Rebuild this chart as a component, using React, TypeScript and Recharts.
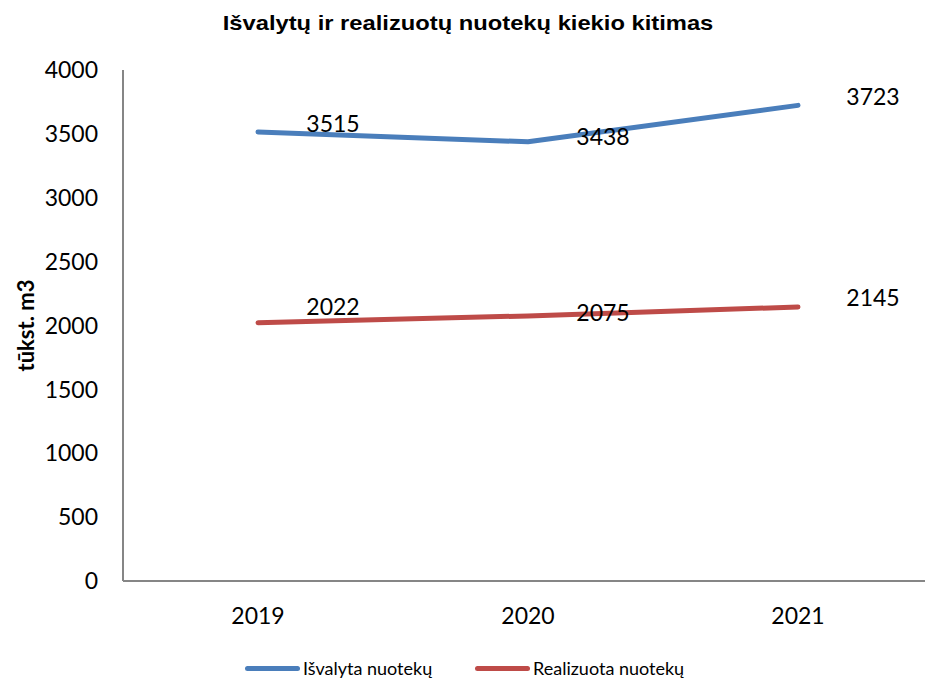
import React from 'react';
import { LineChart, Line, XAxis, YAxis, LabelList } from 'recharts';

const years = ['2019', '2020', '2021'];
const isvalyta = [3515, 3438, 3723];
const realizuota = [2022, 2075, 2145];
const yTicks = [0, 500, 1000, 1500, 2000, 2500, 3000, 3500, 4000];

const title = 'Išvalytų ir realizuotų nuotekų kiekio kitimas';
const yLabel = 'tūkst. m3';
const seriesNames = ['Išvalyta nuotekų', 'Realizuota nuotekų'];
const colors = ['#4a7ebb', '#be4b48'];

// label offsets (style): dy per point
const labelDyBlue = [-9, -6, -9];
const labelDyRed = [-17, -4, -10];

const data = years.map((y, i) => ({ year: y, a: isvalyta[i], b: realizuota[i] }));

const FONT = 'Lato, "Open Sans", sans-serif';

const makeLabel = (dys: number[]) => (props: any) => {
  const { x, y, value, index } = props;
  return (
    <text
      x={x + 75}
      y={y + dys[index]}
      textAnchor="middle"
      dominantBaseline="central"
      fontFamily={FONT}
      fontSize={23}
      fill="#000"
    >
      {value}
    </text>
  );
};

const YLabel = (props: any) => {
  const vb = props.viewBox || {};
  const cy = vb.y + vb.height / 2;
  return (
    <text
      x={25}
      y={cy}
      transform={`rotate(-90, 25, ${cy})`}
      textAnchor="middle"
      dominantBaseline="central"
      fontFamily={FONT}
      fontWeight="bold"
      fontSize={22}
      fill="#000"
    >
      {yLabel}
    </text>
  );
};

export default function App() {
  return (
    <div
      style={{
        position: 'absolute',
        left: 0,
        top: 0,
        width: 925,
        height: 679,
        overflow: 'hidden',
        background: '#fff',
      }}
    >
      <div
        style={{
          position: 'absolute',
          left: 468,
          top: 11,
          transform: 'translateX(-50%) scaleX(1.13)',
          fontFamily: '"Liberation Sans", Arial, sans-serif',
          fontWeight: 'bold',
          fontSize: 21,
          whiteSpace: 'nowrap',
          color: '#000',
        }}
      >
        {title}
      </div>
      <LineChart
        width={935}
        height={679}
        data={data}
        margin={{ top: 70, right: 2, bottom: 38, left: 0 }}
      >
        <XAxis
          dataKey="year"
          scale="band"
          axisLine={{ stroke: '#868686', strokeWidth: 2 }}
          tickLine={false}
          tickSize={0}
          tickMargin={27}
          height={60}
          tick={{ fontFamily: FONT, fontSize: 23, fill: '#000' }}
        />
        <YAxis
          domain={[0, 4000]}
          ticks={yTicks}
          interval={0}
          width={123}
          axisLine={{ stroke: '#868686', strokeWidth: 2 }}
          tickLine={false}
          tickSize={0}
          tickMargin={25}
          tick={{ fontFamily: FONT, fontSize: 23, fill: '#000' }}
          label={<YLabel />}
        />
        <Line
          dataKey="a"
          name={seriesNames[0]}
          stroke={colors[0]}
          strokeWidth={5}
          strokeLinecap="round"
          strokeLinejoin="round"
          dot={false}
          isAnimationActive={false}
        >
          <LabelList dataKey="a" content={makeLabel(labelDyBlue)} />
        </Line>
        <Line
          dataKey="b"
          name={seriesNames[1]}
          stroke={colors[1]}
          strokeWidth={5}
          strokeLinecap="round"
          strokeLinejoin="round"
          dot={false}
          isAnimationActive={false}
        >
          <LabelList dataKey="b" content={makeLabel(labelDyRed)} />
        </Line>
      </LineChart>
      {seriesNames.map((n, i) => (
        <div
          key={n}
          style={{
            position: 'absolute',
            left: i === 0 ? 245 : 475,
            top: 657,
            display: 'flex',
            alignItems: 'center',
            fontFamily: FONT,
            fontSize: 18,
            color: '#000',
            whiteSpace: 'nowrap',
          }}
        >
          <span
            style={{
              display: 'inline-block',
              width: 55,
              height: 5,
              borderRadius: 3,
              background: colors[i],
              marginRight: 3,
            }}
          />
          <span>{n}</span>
        </div>
      ))}
    </div>
  );
}
